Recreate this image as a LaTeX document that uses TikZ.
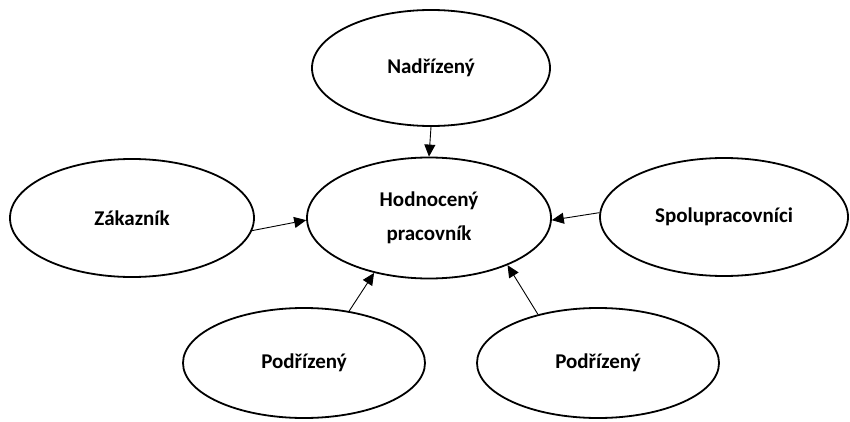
\documentclass[tikz,border=0pt]{standalone}
\usepackage{fontspec}
\setmainfont{Carlito}
\usetikzlibrary{shapes.geometric,arrows.meta}
\begin{document}
\begin{tikzpicture}[x=1pt,y=1pt,
  ell/.style={draw=black,line width=1.8pt,ellipse,inner sep=0pt,
    font=\fontsize{21}{34}\selectfont\bfseries,align=center},
  conn/.style={draw=black,line width=0.9pt,-{Triangle[length=12pt,width=11pt]}}]
\useasboundingbox (0,0) rectangle (850,421);
\node[ell,minimum width=238pt,minimum height=116pt] (nad) at (431,353) {Nadřízený};
\node[ell,minimum width=244pt,minimum height=121pt] (hod) at (429,203) {Hodnocený\\pracovník};
\node[ell,minimum width=244pt,minimum height=118pt] (zak) at (132,203) {Zákazník};
\node[ell,minimum width=248pt,minimum height=118pt] (spo) at (724,204) {Spolupracovníci};
\node[ell,minimum width=242pt,minimum height=110pt] (pl) at (304,58) {Podřízený};
\node[ell,minimum width=242pt,minimum height=110pt] (pr) at (598,58) {Podřízený};
\draw[conn] (nad.south) -- (hod.north);
\draw[conn] (zak.-6) -- (hod.181);
\draw[conn] (spo.178) -- (hod.-1);
\draw[conn] (pl.49) -- (hod.-135);
\draw[conn] (pr.141) -- (hod.-31);
\end{tikzpicture}
\end{document}
